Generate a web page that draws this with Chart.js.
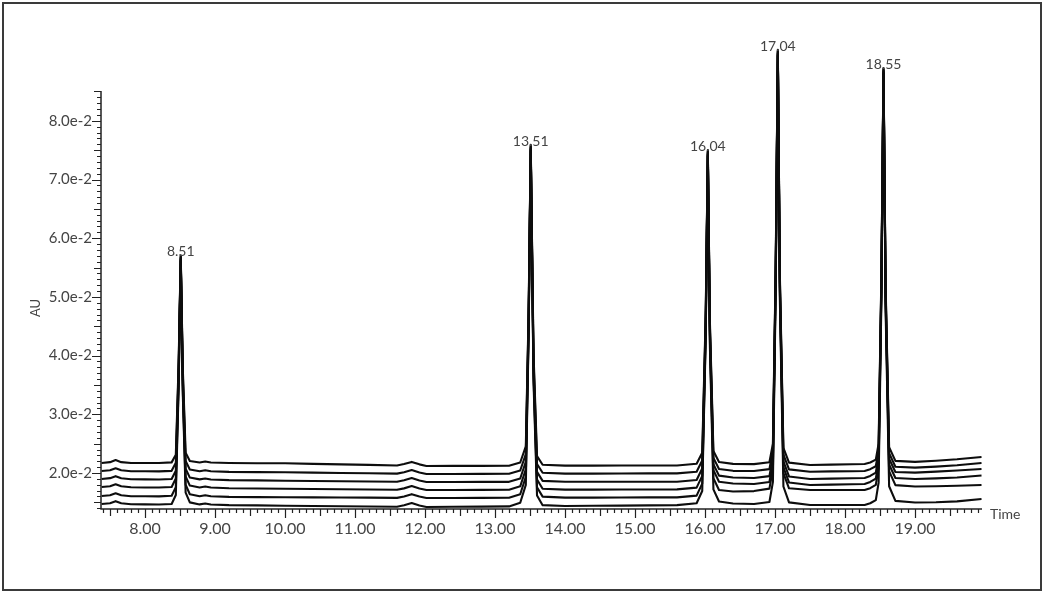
<!DOCTYPE html>
<html>
<head>
<meta charset="utf-8">
<script src="https://cdn.jsdelivr.net/npm/chart.js@4.4.1/dist/chart.umd.min.js"></script>
<style>
  html, body { margin: 0; padding: 0; background: #fff; }
  #wrap { width: 1047px; height: 596px; }
</style>
</head>
<body>
<div id="wrap"><canvas id="chrom" width="1047" height="596"></canvas></div>
<script>
// retention times (min), shared by all traces
const times = [7.38, 7.50, 7.58, 7.66, 7.80, 8.00, 8.20, 8.38, 8.44, 8.48,
  8.51, 8.54, 8.58, 8.64, 8.78, 8.86, 8.94, 9.20, 9.60, 10.00,
  10.40, 10.80, 11.20, 11.60, 11.70, 11.81, 11.92, 12.02, 12.40, 12.80,
  13.20, 13.36, 13.44, 13.48, 13.51, 13.55, 13.60, 13.68, 14.00, 14.40,
  14.80, 15.20, 15.60, 15.88, 15.96, 16.01, 16.04, 16.07, 16.12, 16.20,
  16.40, 16.70, 16.92, 16.97, 17.01, 17.04, 17.07, 17.12, 17.20, 17.50,
  17.80, 18.10, 18.28, 18.36, 18.44, 18.48, 18.52, 18.55, 18.58, 18.63,
  18.72, 19.00, 19.30, 19.60, 19.95];

// absorbance (AU), one array per injection, top trace first
const trace1 = [0.02170, 0.02185, 0.02220, 0.02185, 0.02170, 0.02170, 0.02170, 0.02181, 0.02312, 0.03869,
  0.05710, 0.03763, 0.02347, 0.02205, 0.02178, 0.02195, 0.02178, 0.02170, 0.02167, 0.02165,
  0.02156, 0.02147, 0.02138, 0.02129, 0.02152, 0.02189, 0.02147, 0.02120, 0.02121, 0.02122,
  0.02123, 0.02179, 0.02452, 0.04748, 0.07590, 0.04037, 0.02288, 0.02140, 0.02125, 0.02126,
  0.02127, 0.02128, 0.02129, 0.02157, 0.02345, 0.04708, 0.07500, 0.04563, 0.02374, 0.02187,
  0.02156, 0.02151, 0.02182, 0.02500, 0.05537, 0.09210, 0.05324, 0.02427, 0.02177, 0.02136,
  0.02142, 0.02149, 0.02153, 0.02180, 0.02227, 0.02499, 0.05397, 0.08900, 0.05197, 0.02438,
  0.02206, 0.02189, 0.02209, 0.02233, 0.02273];
const trace2 = [0.02034, 0.02048, 0.02082, 0.02047, 0.02030, 0.02029, 0.02027, 0.02037, 0.02173, 0.03785,
  0.05690, 0.03674, 0.02207, 0.02060, 0.02030, 0.02046, 0.02029, 0.02019, 0.02015, 0.02012,
  0.02006, 0.02000, 0.01995, 0.01989, 0.02012, 0.02051, 0.02009, 0.01983, 0.01984, 0.01985,
  0.01987, 0.02043, 0.02322, 0.04667, 0.07570, 0.03941, 0.02154, 0.02004, 0.01989, 0.01990,
  0.01992, 0.01993, 0.01994, 0.02022, 0.02214, 0.04628, 0.07480, 0.04488, 0.02258, 0.02067,
  0.02037, 0.02033, 0.02066, 0.02388, 0.05466, 0.09190, 0.05251, 0.02314, 0.02062, 0.02022,
  0.02027, 0.02031, 0.02034, 0.02065, 0.02115, 0.02392, 0.05330, 0.08880, 0.05129, 0.02337,
  0.02107, 0.02091, 0.02109, 0.02131, 0.02170];
const trace3 = [0.01898, 0.01912, 0.01946, 0.01910, 0.01893, 0.01891, 0.01889, 0.01898, 0.02038, 0.03703,
  0.05670, 0.03589, 0.02074, 0.01922, 0.01891, 0.01907, 0.01889, 0.01878, 0.01874, 0.01869,
  0.01865, 0.01860, 0.01856, 0.01851, 0.01875, 0.01914, 0.01873, 0.01847, 0.01847, 0.01848,
  0.01849, 0.01906, 0.02191, 0.04585, 0.07550, 0.03844, 0.02020, 0.01866, 0.01850, 0.01850,
  0.01851, 0.01851, 0.01852, 0.01880, 0.02076, 0.04544, 0.07460, 0.04417, 0.02148, 0.01955,
  0.01923, 0.01916, 0.01947, 0.02273, 0.05394, 0.09170, 0.05176, 0.02198, 0.01941, 0.01898,
  0.01904, 0.01911, 0.01915, 0.01950, 0.02006, 0.02290, 0.05267, 0.08860, 0.05065, 0.02244,
  0.02016, 0.02006, 0.02023, 0.02042, 0.02068];
const trace4 = [0.01761, 0.01775, 0.01809, 0.01773, 0.01756, 0.01754, 0.01752, 0.01762, 0.01905, 0.03622,
  0.05650, 0.03504, 0.01943, 0.01786, 0.01754, 0.01770, 0.01752, 0.01741, 0.01737, 0.01732,
  0.01728, 0.01723, 0.01719, 0.01714, 0.01738, 0.01777, 0.01736, 0.01710, 0.01711, 0.01712,
  0.01714, 0.01773, 0.02064, 0.04506, 0.07530, 0.03750, 0.01889, 0.01732, 0.01716, 0.01717,
  0.01719, 0.01720, 0.01721, 0.01751, 0.01951, 0.04467, 0.07440, 0.04351, 0.02049, 0.01852,
  0.01820, 0.01813, 0.01846, 0.02175, 0.05332, 0.09150, 0.05110, 0.02098, 0.01839, 0.01796,
  0.01802, 0.01809, 0.01813, 0.01848, 0.01905, 0.02192, 0.05204, 0.08840, 0.05000, 0.02145,
  0.01915, 0.01899, 0.01908, 0.01924, 0.01957];
const trace5 = [0.01608, 0.01622, 0.01656, 0.01621, 0.01604, 0.01603, 0.01601, 0.01612, 0.01760, 0.03534,
  0.05630, 0.03413, 0.01800, 0.01638, 0.01604, 0.01621, 0.01603, 0.01593, 0.01589, 0.01586,
  0.01584, 0.01582, 0.01580, 0.01576, 0.01601, 0.01640, 0.01600, 0.01574, 0.01575, 0.01576,
  0.01578, 0.01638, 0.01935, 0.04426, 0.07510, 0.03655, 0.01757, 0.01597, 0.01580, 0.01581,
  0.01583, 0.01584, 0.01585, 0.01615, 0.01819, 0.04386, 0.07420, 0.04264, 0.01911, 0.01710,
  0.01685, 0.01692, 0.01734, 0.02070, 0.05266, 0.09130, 0.05044, 0.01998, 0.01740, 0.01710,
  0.01710, 0.01710, 0.01710, 0.01742, 0.01797, 0.02085, 0.05136, 0.08820, 0.04927, 0.02031,
  0.01793, 0.01770, 0.01775, 0.01782, 0.01796];
const trace6 = [0.01472, 0.01486, 0.01520, 0.01484, 0.01467, 0.01465, 0.01463, 0.01473, 0.01626, 0.03452,
  0.05610, 0.03327, 0.01667, 0.01500, 0.01465, 0.01481, 0.01463, 0.01452, 0.01448, 0.01443,
  0.01439, 0.01434, 0.01430, 0.01425, 0.01449, 0.01488, 0.01447, 0.01421, 0.01424, 0.01428,
  0.01431, 0.01494, 0.01797, 0.04341, 0.07490, 0.03554, 0.01616, 0.01452, 0.01438, 0.01441,
  0.01445, 0.01448, 0.01452, 0.01485, 0.01693, 0.04309, 0.07400, 0.04146, 0.01721, 0.01514,
  0.01480, 0.01473, 0.01506, 0.01849, 0.05135, 0.09110, 0.04905, 0.01770, 0.01500, 0.01455,
  0.01455, 0.01455, 0.01455, 0.01485, 0.01539, 0.01836, 0.04990, 0.08800, 0.04772, 0.01774,
  0.01525, 0.01497, 0.01502, 0.01517, 0.01557];

// labelled peaks
const peakTimes = [8.51, 13.51, 16.04, 17.04, 18.55];
const peakLabels = ['8.51', '13.51', '16.04', '17.04', '18.55'];
const peakApex = [0.05710, 0.07590, 0.07500, 0.09210, 0.08900];

// axis ticks
const xTickValues = [8, 9, 10, 11, 12, 13, 14, 15, 16, 17, 18, 19];
const xTickLabels = ['8.00', '9.00', '10.00', '11.00', '12.00', '13.00', '14.00', '15.00', '16.00', '17.00', '18.00', '19.00'];
const yTickValues = [0.02, 0.03, 0.04, 0.05, 0.06, 0.07, 0.08];
const yTickLabels = ['2.0e-2', '3.0e-2', '4.0e-2', '5.0e-2', '6.0e-2', '7.0e-2', '8.0e-2'];

const traces = [trace1, trace2, trace3, trace4, trace5, trace6];
const FONT = 'Lato, "Open Sans", sans-serif';

// axes, ticks, labels and frame are painted here from the chart's scales
const chromAxes = {
  id: 'chromAxes',
  beforeDraw(chart) {
    const c = chart.ctx;
    c.save();
    c.fillStyle = '#fff';
    c.fillRect(0, 0, chart.width, chart.height);
    c.strokeStyle = '#3a3a3a';
    c.lineWidth = 2;
    c.strokeRect(3, 3, 1038, 587);
    c.restore();
  },
  afterDraw(chart) {
    const c = chart.ctx;
    const x = chart.scales.x, y = chart.scales.y;
    const a = chart.chartArea;
    c.save();
    c.strokeStyle = '#222';
    c.lineWidth = 1.5;
    c.beginPath();
    c.moveTo(a.left, a.top);
    c.lineTo(a.left, a.bottom);
    c.lineTo(a.right, a.bottom);
    c.stroke();

    // y minor/major ticks every 0.001
    c.lineWidth = 1.2;
    c.beginPath();
    for (let i = Math.ceil(y.min * 1000); i <= Math.floor(y.max * 1000); i++) {
      const py = Math.round(y.getPixelForValue(i / 1000)) + 0.5;
      const len = i % 10 === 0 ? 9 : (i % 5 === 0 ? 7 : 4);
      c.moveTo(a.left, py);
      c.lineTo(a.left - len, py);
    }
    // x ticks every 0.1
    for (let i = Math.ceil(x.min * 10); i <= Math.floor(x.max * 10); i++) {
      const px = Math.round(x.getPixelForValue(i / 10)) + 0.5;
      const len = i % 10 === 0 ? 9 : (i % 5 === 0 ? 7 : 4);
      c.moveTo(px, a.bottom);
      c.lineTo(px, a.bottom + len);
    }
    c.stroke();

    c.fillStyle = '#444';
    c.font = '15px ' + FONT;
    c.textAlign = 'right';
    c.textBaseline = 'middle';
    yTickValues.forEach((v, k) => c.fillText(yTickLabels[k], a.left - 9, y.getPixelForValue(v)));

    c.font = '16px ' + FONT;
    c.textAlign = 'center';
    xTickValues.forEach((v, k) => c.fillText(xTickLabels[k], x.getPixelForValue(v), a.bottom + 20));

    c.font = '14px ' + FONT;
    c.textAlign = 'left';
    c.fillText('Time', a.right + 8, a.bottom + 5);

    c.save();
    c.translate(36, 308);
    c.rotate(-Math.PI / 2);
    c.textAlign = 'center';
    c.font = '13px ' + FONT;
    c.fillText('AU', 0, 0);
    c.restore();

    // retention time labels on the peaks
    c.font = '14px ' + FONT;
    c.textAlign = 'center';
    c.textBaseline = 'alphabetic';
    peakTimes.forEach((t, k) => {
      c.fillText(peakLabels[k], x.getPixelForValue(t), y.getPixelForValue(peakApex[k]) + 1);
    });
    c.restore();
  }
};

new Chart(document.getElementById('chrom'), {
  type: 'line',
  data: {
    datasets: traces.map(tr => ({
      data: times.map((t, i) => ({ x: t, y: tr[i] })),
      borderColor: '#0d0d0d',
      borderWidth: 2.1,
      borderJoinStyle: 'round',
      pointRadius: 0,
      tension: 0,
      fill: false,
      clip: false
    }))
  },
  options: {
    responsive: false,
    animation: false,
    devicePixelRatio: 1,
    layout: { padding: { left: 101, right: 65, top: 91, bottom: 87 } },
    plugins: { legend: { display: false }, tooltip: { enabled: false } },
    scales: {
      x: { type: 'linear', min: 7.371, max: 19.957, display: false },
      y: { type: 'linear', min: 0.013867, max: 0.08508, display: false }
    }
  },
  plugins: [chromAxes]
});
</script>
</body>
</html>
